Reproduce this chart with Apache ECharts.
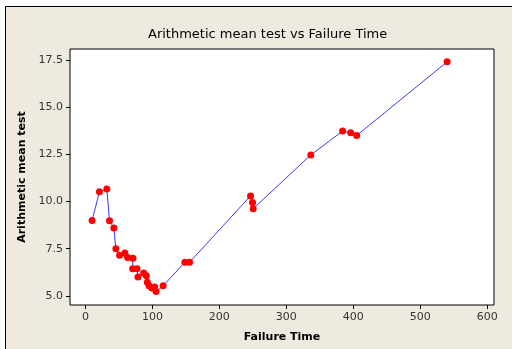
<!DOCTYPE html>
<html>
<head>
<meta charset="utf-8">
<script src="https://cdn.jsdelivr.net/npm/echarts@6/dist/echarts.min.js"></script>
<style>
  html, body { margin: 0; padding: 0; background: #fff; }
  #chart { width: 512px; height: 349px; }
</style>
</head>
<body>
<div id="chart"></div>
<script>
// values
const failureTime = [10, 21, 32, 36, 42.5, 45.5, 51, 59, 63, 71, 70.5, 77, 78.5, 87, 91, 92.5, 95, 99, 103.5, 105.5, 116,
  148.5, 155.5, 246.5, 249.5, 250.5, 336.5, 384, 396, 405, 540];
const meanTest = [9.0, 10.52, 10.66, 8.98, 8.6, 7.5, 7.15, 7.27, 7.04, 7.0, 6.44, 6.44, 6.0, 6.21, 6.07, 5.72, 5.54, 5.42, 5.47, 5.23, 5.54,
  6.78, 6.78, 10.3, 9.95, 9.62, 12.47, 13.73, 13.64, 13.5, 17.4];
const xTicks = [0, 100, 200, 300, 400, 500, 600];
const yTicks = [5.0, 7.5, 10.0, 12.5, 15.0, 17.5];

const points = failureTime.map((t, i) => [t, meanTest[i]]);
const font = "DejaVu Sans";

const chart = echarts.init(document.getElementById("chart"));
chart.setOption({
  animation: false,
  textStyle: { fontFamily: font },
  graphic: [{
    type: "rect",
    z: -10,
    shape: { x: 5.5, y: 6.5, width: 520, height: 360 },
    style: { fill: "#eeeae0", stroke: "#000", lineWidth: 1 }
  }],
  title: {
    text: "Arithmetic mean test vs Failure Time",
    left: 143,
    top: 23,
    textStyle: { fontFamily: font, fontSize: 13, fontWeight: "normal", color: "#000" }
  },
  grid: {
    left: 70, top: 49, right: 18, bottom: 44,
    show: true,
    backgroundColor: "#fff",
    borderColor: "#000",
    borderWidth: 1
  },
  xAxis: {
    type: "value",
    min: -23,
    max: 610,
    name: "Failure Time",
    nameLocation: "middle",
    nameGap: 27,
    nameTextStyle: { fontFamily: font, fontSize: 11, fontWeight: "bold", color: "#000" },
    axisLine: { show: false, onZero: false },
    splitLine: { show: false },
    axisTick: { show: true, length: 4, customValues: xTicks, lineStyle: { color: "#000" } },
    axisLabel: { customValues: xTicks, fontSize: 11, color: "#333", margin: 7 }
  },
  yAxis: {
    type: "value",
    min: 4.52,
    max: 18.08,
    name: "Arithmetic mean test",
    nameLocation: "middle",
    nameGap: 42,
    nameTextStyle: { fontFamily: font, fontSize: 11, fontWeight: "bold", color: "#000" },
    axisLine: { show: false, onZero: false },
    splitLine: { show: false },
    axisTick: { show: true, length: 4, customValues: yTicks, lineStyle: { color: "#000" } },
    axisLabel: { customValues: yTicks, fontSize: 11, color: "#333", margin: 7,
      formatter: v => v.toFixed(1) }
  },
  series: [{
    type: "line",
    data: points,
    symbol: "circle",
    symbolSize: 7,
    itemStyle: { color: "#ff0000" },
    lineStyle: { color: "#3a3aff", width: 1 }
  }]
});
</script>
</body>
</html>
